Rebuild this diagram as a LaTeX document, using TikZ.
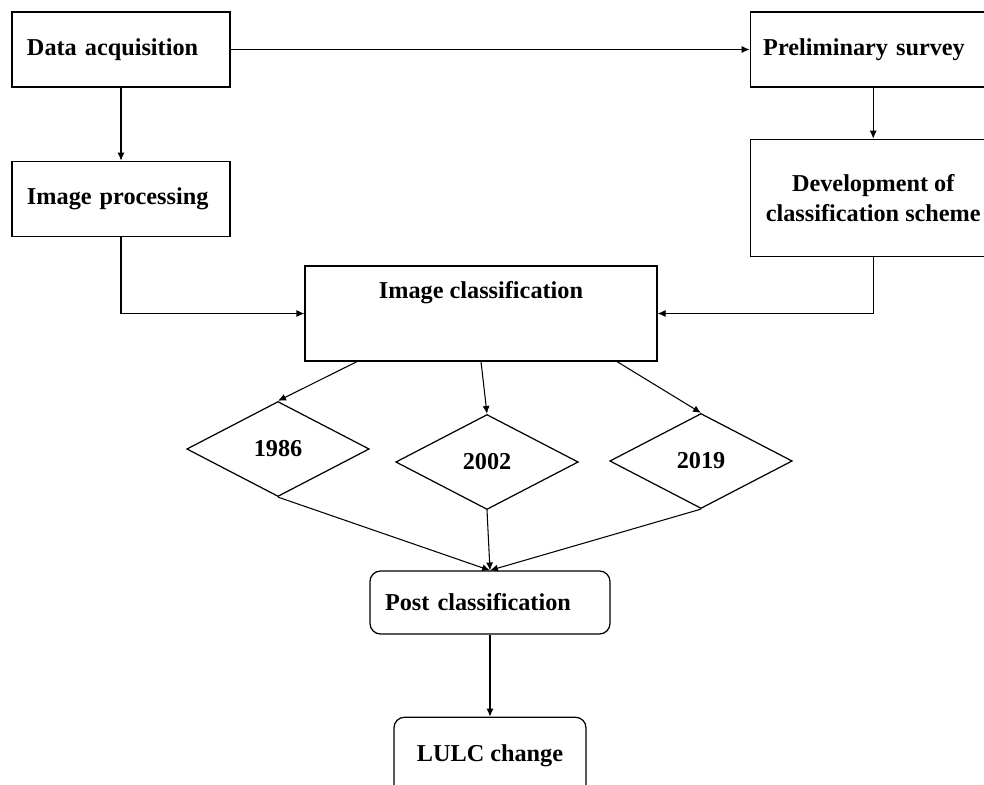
\documentclass[tikz,border=0pt]{standalone}
\usepackage{fontspec}
\setmainfont{Liberation Serif}
\usepackage{tikz}
\usetikzlibrary{arrows.meta}
\usetikzlibrary{shapes.geometric,positioning}

\begin{document}
\begin{tikzpicture}[
        font=\fontsize{13.8}{17}\selectfont\bfseries,
        box/.style={draw, rectangle, line width=0.7pt, minimum height=1.5cm, inner xsep=0.3cm, align=left},
        rbox/.style={box, rounded corners=6pt},
        year/.style={draw, diamond, line width=0.7pt, inner sep=0pt, minimum width=3.65cm, minimum height=1.9cm},
        link/.style={line width=0.6pt, -{Latex[length=4.5pt, width=4pt]}},
    ]
        \useasboundingbox (0,0) rectangle (19.68,-15.7);

        \node (acq) [box, text width=3.76cm] at (2.42,-0.99) {Data acquisition};
        \node (prelim) [box, text width=4.4cm, inner xsep=0.26cm, right=10.38cm of acq] {Preliminary survey};
        \node (improc) [box, text width=3.76cm, below=1.46cm of acq] {Image processing};
        \node (dev) [box, align=center, minimum width=4.92cm, minimum height=2.34cm, below=1.02cm of prelim]
        {Development of \\ classification scheme};

        \node (imclass) [box, minimum width=7.04cm, minimum height=1.9cm, text depth=0.95cm, align=center] at (9.62,-6.27)
        {Image classification};

        \node (y1986) [year] at (5.56,-8.98) {1986};
        \node (y2002) [year] at (9.74,-9.24) {2002};
        \node (y2019) [year] at (14.02,-9.22) {2019};

        \node (post) [rbox, text width=4.2cm, minimum height=1.26cm] at (9.8,-12.05) {Post classification};
        \node (lulc) [rbox, minimum width=3.84cm, minimum height=1.56cm, align=center, below=1.64cm of post] {LULC change};

        \draw [link] (acq) -- (prelim);
        \draw [link] (acq) -- (improc);
        \draw [link] (prelim) -- (dev);
        \draw [link] (improc.south) |- (imclass.west);
        \draw [link] (dev.south) |- (imclass.east);

        \draw [link] ([xshift=-2.48cm]imclass.south) -- (y1986.north);
        \draw [link] (imclass.south) -- (y2002.north);
        \draw [link] ([xshift=2.72cm]imclass.south) -- (y2019.north);

        \draw [link] (y1986.south) -- (post.north);
        \draw [link] (y2002.south) -- (post.north);
        \draw [link] (y2019.south) -- (post.north);
        \draw [link] (post) -- (lulc);
    \end{tikzpicture}
\end{document}
